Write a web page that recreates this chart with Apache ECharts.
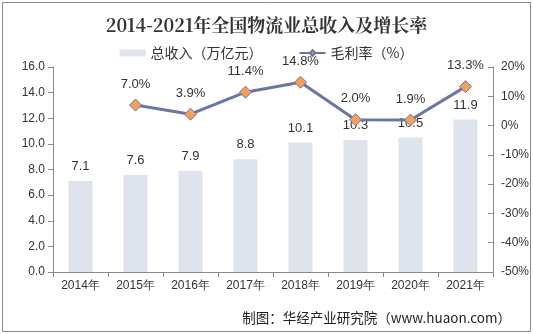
<!DOCTYPE html>
<html><head><meta charset="utf-8">
<script src="https://cdn.jsdelivr.net/npm/echarts@6/dist/echarts.min.js"></script>
<style>html,body{margin:0;padding:0;background:#fff}#c{width:533px;height:334px}</style>
</head><body><div id="c"></div>
<script>
const categories = ['2014年','2015年','2016年','2017年','2018年','2019年','2020年','2021年'];
const revenue = [7.1, 7.6, 7.9, 8.8, 10.1, 10.3, 10.5, 11.9];
const margin = [null, 7.0, 3.9, 11.4, 14.8, 2.0, 1.9, 13.3];
const leftTicks = {min: 0, max: 16, interval: 2};
const rightTicks = {min: -50, max: 20, interval: 10};

const chart = echarts.init(document.getElementById('c'), null, {renderer: 'canvas'});
const axisFont = {fontFamily: 'Liberation Sans, Arial', fontSize: 12, color: '#333'};
chart.setOption({
  animation: false,
  backgroundColor: '#fff',
  title: {
    text: '2014-2021年全国物流业总收入及增长率',
    left: 'center', top: 11,
    textStyle: {fontFamily: 'Noto Serif CJK SC, serif', fontWeight: 'bold', fontSize: 18, color: '#333'}
  },
  graphic: [
    {type: 'rect', shape: {x: 2.5, y: 2.5, width: 528, height: 329}, style: {fill: 'none', stroke: '#888', lineWidth: 1}},
    {type: 'text', right: 22, top: 311, style: {text: '制图：华经产业研究院（www.huaon.com）', fontSize: 13.5, fill: '#222', fontFamily: 'Noto Sans CJK SC'}}
  ],
  legend: {
    top: 41, left: 'center', itemGap: 36, itemWidth: 26, itemHeight: 7,
    textStyle: {fontFamily: 'Noto Sans CJK SC', fontSize: 14, color: '#333'},
    data: [{name: '总收入（万亿元）', icon: 'rect'}, {name: '毛利率（%）'}]
  },
  grid: {left: 53, right: 40, top: 67, bottom: 62},
  xAxis: {
    type: 'category', data: categories,
    axisLine: {lineStyle: {color: '#888'}},
    axisTick: {show: true, alignWithLabel: false, lineStyle: {color: '#888'}},
    axisLabel: Object.assign({margin: 8}, axisFont)
  },
  yAxis: [
    {type: 'value', min: leftTicks.min, max: leftTicks.max, interval: leftTicks.interval,
     axisLine: {show: true, lineStyle: {color: '#888'}},
     axisTick: {show: true, lineStyle: {color: '#888'}},
     splitLine: {show: false},
     axisLabel: Object.assign({formatter: v => v.toFixed(1)}, axisFont)},
    {type: 'value', min: rightTicks.min, max: rightTicks.max, interval: rightTicks.interval,
     axisLine: {show: true, lineStyle: {color: '#888'}},
     axisTick: {show: true, inside: true, lineStyle: {color: '#888'}},
     splitLine: {show: false},
     axisLabel: Object.assign({formatter: v => v + '%'}, axisFont)}
  ],
  series: [
    {name: '总收入（万亿元）', type: 'bar', data: revenue, barWidth: 24,
     itemStyle: {color: '#dfe3ec'},
     label: {show: true, position: 'top', distance: 8, formatter: p => p.value.toFixed(1), fontFamily: 'Liberation Sans, Arial', fontSize: 13, color: '#333'}},
    {name: '毛利率（%）', type: 'line', yAxisIndex: 1, data: margin,
     lineStyle: {color: '#6b76a4', width: 3},
     itemStyle: {color: '#f2a05a', borderColor: '#6b76a4', borderWidth: 1},
     symbol: 'diamond', symbolSize: 12,
     label: {show: true, position: 'top', distance: 8, formatter: p => p.value.toFixed(1) + '%', fontFamily: 'Liberation Sans, Arial', fontSize: 13, color: '#333'}}
  ]
});
</script></body></html>
